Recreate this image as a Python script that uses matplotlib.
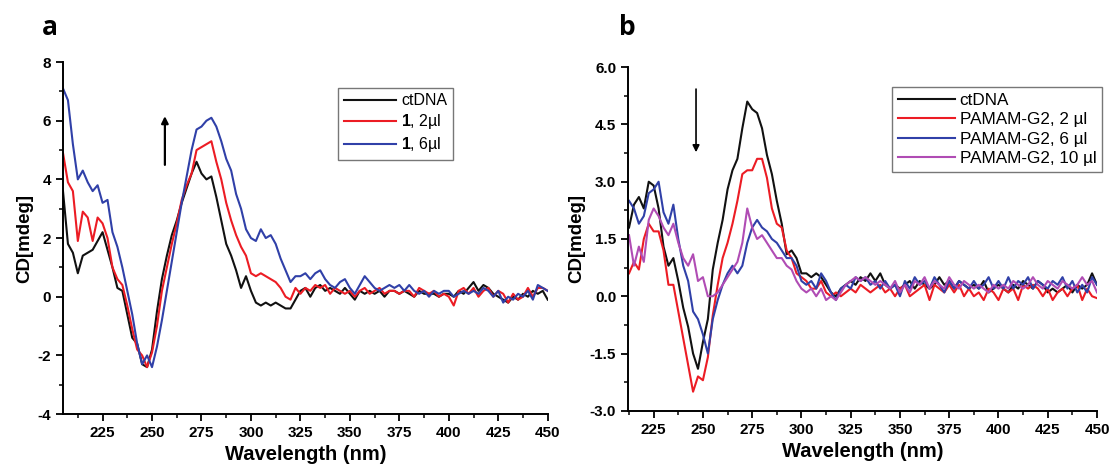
import numpy as np
import matplotlib
matplotlib.use("Agg")
import matplotlib.pyplot as plt
from matplotlib.ticker import MultipleLocator

plt.rcParams['font.family'] = ['Liberation Sans', 'DejaVu Sans']
plt.rcParams['mathtext.fontset'] = 'custom'
plt.rcParams['mathtext.bf'] = 'Liberation Sans:bold'
plt.rcParams['mathtext.rm'] = 'Liberation Sans'

# ---- panel a: ctDNA titrated with compound 1 ----
wl_a = np.arange(205, 450.01, 2.5)
cd_a_ctdna = [
    3.6, 1.8, 1.5, 0.8, 1.4, 1.5, 1.6, 1.9, 2.2, 1.6,
    1.0, 0.3, 0.2, -0.6, -1.4, -1.6, -2.3, -2.4, -1.8, -0.5,
    0.6, 1.4, 2.1, 2.6, 3.2, 3.7, 4.2, 4.6, 4.2, 4.0,
    4.1, 3.4, 2.6, 1.8, 1.4, 0.9, 0.3, 0.7, 0.2, -0.2,
    -0.3, -0.2, -0.3, -0.2, -0.3, -0.4, -0.4, -0.1, 0.2, 0.3,
    0.0, 0.3, 0.4, 0.2, 0.3, 0.2, 0.1, 0.3, 0.1, -0.1,
    0.2, 0.1, 0.2, 0.1, 0.2, 0.0, 0.2, 0.2, 0.1, 0.2,
    0.1, 0.0, 0.2, 0.1, 0.1, 0.1, 0.0, 0.1, 0.1, 0.0,
    0.2, 0.1, 0.3, 0.5, 0.2, 0.4, 0.3, 0.1, 0.0, -0.1,
    -0.2, 0.0, -0.1, 0.1, 0.0, 0.2, 0.1, 0.2, -0.1,
]
cd_a_2ul = [
    4.9, 3.9, 3.6, 1.9, 2.9, 2.7, 1.9, 2.7, 2.5, 2.0,
    1.0, 0.6, 0.4, -0.3, -1.1, -1.8, -2.0, -2.4, -1.9, -1.0,
    0.2, 1.0, 1.8, 2.5, 3.3, 3.8, 4.2, 5.0, 5.1, 5.2,
    5.3, 4.6, 4.0, 3.2, 2.6, 2.1, 1.7, 1.4, 0.8, 0.7,
    0.8, 0.7, 0.6, 0.5, 0.3, 0.0, -0.1, 0.3, 0.1, 0.3,
    0.2, 0.4, 0.3, 0.4, 0.1, 0.3, 0.2, 0.1, 0.2, 0.0,
    0.2, 0.3, 0.1, 0.2, 0.3, 0.1, 0.2, 0.2, 0.1, 0.2,
    0.2, 0.0, 0.3, 0.2, 0.1, 0.2, 0.0, 0.1, 0.0, -0.3,
    0.2, 0.3, 0.1, 0.3, 0.0, 0.2, 0.3, 0.0, 0.2, 0.1,
    -0.2, 0.1, -0.1, 0.0, 0.3, 0.0, 0.3, 0.3, 0.2,
]
cd_a_6ul = [
    7.1, 6.7, 5.2, 4.0, 4.3, 3.9, 3.6, 3.8, 3.2, 3.3,
    2.2, 1.7, 1.0, 0.2, -0.6, -1.6, -2.3, -2.0, -2.4, -1.7,
    -0.8, 0.2, 1.2, 2.2, 3.2, 4.1, 5.0, 5.7, 5.8, 6.0,
    6.1, 5.8, 5.3, 4.7, 4.3, 3.5, 3.0, 2.3, 2.0, 1.9,
    2.3, 2.0, 2.1, 1.8, 1.3, 0.9, 0.5, 0.7, 0.7, 0.8,
    0.6, 0.8, 0.9, 0.6, 0.4, 0.3, 0.5, 0.6, 0.3, 0.1,
    0.4, 0.7, 0.5, 0.3, 0.2, 0.3, 0.4, 0.3, 0.4, 0.2,
    0.4, 0.2, 0.1, 0.2, 0.0, 0.2, 0.1, 0.2, 0.2, 0.0,
    0.1, 0.2, 0.1, 0.2, 0.1, 0.3, 0.2, 0.0, 0.2, -0.2,
    0.0, -0.1, 0.1, 0.0, 0.2, -0.1, 0.4, 0.3, 0.2,
]

# ---- panel b: ctDNA titrated with PAMAM-G2 ----
wl_b = np.arange(212.5, 450.01, 2.5)
cd_b_ctdna = [
    1.8, 2.4, 2.6, 2.3, 3.0, 2.9, 2.3, 1.3, 0.8, 1.0,
    0.4, -0.3, -0.8, -1.5, -1.9, -1.2, -0.6, 0.7, 1.4, 2.0,
    2.8, 3.3, 3.6, 4.4, 5.1, 4.9, 4.8, 4.4, 3.7, 3.2,
    2.5, 1.9, 1.1, 1.2, 1.0, 0.6, 0.6, 0.5, 0.6, 0.5,
    0.3, 0.1, 0.0, 0.2, 0.3, 0.4, 0.3, 0.5, 0.4, 0.6,
    0.4, 0.6, 0.3, 0.2, 0.3, 0.2, 0.3, 0.4, 0.2, 0.4,
    0.3, 0.2, 0.3, 0.5, 0.3, 0.4, 0.2, 0.4, 0.3, 0.2,
    0.3, 0.2, 0.4, 0.1, 0.2, 0.3, 0.2, 0.1, 0.3, 0.2,
    0.4, 0.3, 0.2, 0.4, 0.3, 0.1, 0.2, 0.1, 0.2, 0.3,
    0.1, 0.3, 0.2, 0.3, 0.6, 0.3,
]
cd_b_2ul = [
    0.6, 0.9, 0.7, 1.5, 1.9, 1.7, 1.7, 1.2, 0.3, 0.3,
    -0.4, -1.1, -1.8, -2.5, -2.1, -2.2, -1.6, -0.5, 0.3, 1.0,
    1.4, 1.9, 2.5, 3.2, 3.3, 3.3, 3.6, 3.6, 3.1, 2.3,
    1.9, 1.8, 1.2, 1.0, 0.6, 0.5, 0.4, 0.2, 0.2, 0.4,
    0.1, 0.0, 0.1, 0.0, 0.1, 0.2, 0.1, 0.3, 0.2, 0.1,
    0.2, 0.3, 0.1, 0.2, 0.0, 0.2, 0.3, 0.0, 0.1, 0.2,
    0.3, -0.1, 0.3, 0.2, 0.1, 0.3, 0.1, 0.3, 0.0, 0.2,
    0.0, 0.1, -0.1, 0.2, 0.1, -0.1, 0.2, 0.1, 0.2, -0.1,
    0.3, 0.2, 0.3, 0.2, 0.0, 0.2, -0.1, 0.1, 0.2, 0.0,
    0.2, 0.3, -0.1, 0.2, 0.0, -0.05,
]
cd_b_6ul = [
    2.5, 2.3, 1.9, 2.1, 2.7, 2.8, 3.0, 2.2, 1.9, 2.4,
    1.5, 0.8, 0.4, -0.4, -0.6, -1.0, -1.5, -0.6, -0.1, 0.3,
    0.6, 0.8, 0.6, 0.8, 1.4, 1.8, 2.0, 1.8, 1.7, 1.5,
    1.4, 1.2, 1.0, 1.0, 0.8, 0.4, 0.3, 0.4, 0.2, 0.6,
    0.4, 0.1, -0.1, 0.2, 0.3, 0.2, 0.5, 0.4, 0.5, 0.3,
    0.4, 0.2, 0.4, 0.2, 0.3, 0.0, 0.4, 0.2, 0.5, 0.3,
    0.4, 0.2, 0.5, 0.3, 0.1, 0.4, 0.2, 0.4, 0.3, 0.2,
    0.4, 0.2, 0.3, 0.5, 0.2, 0.4, 0.2, 0.5, 0.2, 0.4,
    0.3, 0.5, 0.2, 0.4, 0.3, 0.2, 0.4, 0.3, 0.5, 0.2,
    0.4, 0.1, 0.3, 0.1, 0.5, 0.3,
]
cd_b_10ul = [
    1.6, 0.8, 1.3, 0.9, 2.0, 2.3, 2.1, 1.8, 1.6, 1.9,
    1.4, 1.0, 0.8, 1.1, 0.4, 0.5, 0.0, 0.0, 0.1, 0.3,
    0.5, 0.7, 0.9, 1.4, 2.3, 1.8, 1.5, 1.6, 1.4, 1.2,
    1.0, 1.0, 0.8, 0.7, 0.4, 0.2, 0.1, 0.2, 0.0, 0.2,
    -0.1, 0.0, -0.1, 0.1, 0.3, 0.4, 0.5, 0.4, 0.5, 0.4,
    0.3, 0.4, 0.3, 0.2, 0.4, 0.1, 0.3, 0.1, 0.4, 0.3,
    0.5, 0.2, 0.4, 0.3, 0.2, 0.5, 0.3, 0.2, 0.4, 0.3,
    0.2, 0.3, 0.2, 0.1, 0.3, 0.2, 0.3, 0.2, 0.4, 0.3,
    0.2, 0.3, 0.5, 0.3, 0.2, 0.4, 0.3, 0.2, 0.4, 0.3,
    0.2, 0.3, 0.5, 0.3, 0.4, 0.1,
]

labels_a = ['ctDNA', r'$\mathbf{1}$, 2µl', r'$\mathbf{1}$, 6µl']
labels_b = ['ctDNA', 'PAMAM-G2, 2 µl', 'PAMAM-G2, 6 µl', 'PAMAM-G2, 10 µl']
xticks = [225, 250, 275, 300, 325, 350, 375, 400, 425, 450]

BLACK = '#111111'
RED = '#ec1c24'
BLUE = '#3040a8'
MAGENTA = '#b04cb4'

fig = plt.figure(figsize=(11.11, 4.70), dpi=100)
ax_a = fig.add_axes([0.0567, 0.119, 0.4363, 0.749])
ax_b = fig.add_axes([0.5653, 0.126, 0.4221, 0.731])


def style_axis(ax, xlim, ylim, ymajor, yfmt):
    ax.set_xlim(*xlim)
    ax.set_ylim(*ylim)
    for s in ('top', 'right'):
        ax.spines[s].set_visible(False)
    for s in ('left', 'bottom'):
        ax.spines[s].set_linewidth(1.4)
    ax.set_xticks(xticks)
    ax.xaxis.set_minor_locator(MultipleLocator(12.5))
    ax.yaxis.set_major_locator(MultipleLocator(ymajor))
    ax.yaxis.set_minor_locator(MultipleLocator(ymajor / 2))
    ax.yaxis.set_major_formatter(plt.FormatStrFormatter(yfmt))
    ax.tick_params(which='major', direction='out', length=5, width=1.3,
                   labelsize=11)
    ax.tick_params(which='minor', direction='out', length=3, width=1.1)
    for lab in ax.get_xticklabels() + ax.get_yticklabels():
        lab.set_fontweight('bold')
    ax.set_xlabel('Wavelength (nm)', fontsize=14.5, fontweight='bold', labelpad=4)
    ax.set_ylabel('CD[mdeg]', fontsize=13.5, fontweight='bold', labelpad=3)


def add_legend(ax, anchor, size):
    leg = ax.legend(loc='upper left', bbox_to_anchor=anchor, fontsize=size,
                    handlelength=3.3, handletextpad=0.3, borderpad=0.35,
                    labelspacing=0.25, fancybox=False, framealpha=1)
    leg.get_frame().set_edgecolor('#777777')
    leg.get_frame().set_linewidth(1.0)
    return leg


# panel a
for y, c, lab in zip([cd_a_ctdna, cd_a_2ul, cd_a_6ul], [BLACK, RED, BLUE], labels_a):
    ax_a.plot(wl_a, y, color=c, lw=1.5, label=lab)
style_axis(ax_a, (205, 450), (-4, 8), 2, '%g')
ax_a.annotate('', xy=(256.5, 6.25), xytext=(256.5, 4.4),
              arrowprops=dict(arrowstyle='-|>', color='black', lw=1.6,
                              mutation_scale=10))
add_legend(ax_a, (0.551, 0.95), 11.5)

# panel b
for y, c, lab in zip([cd_b_ctdna, cd_b_2ul, cd_b_6ul, cd_b_10ul],
                     [BLACK, RED, BLUE, MAGENTA], labels_b):
    ax_b.plot(wl_b, y, color=c, lw=1.5, label=lab)
style_axis(ax_b, (212, 450), (-3, 6), 1.5, '%.1f')
ax_b.annotate('', xy=(246.5, 3.7), xytext=(246.5, 5.5),
              arrowprops=dict(arrowstyle='-|>', color='black', lw=1.2,
                              mutation_scale=10))
add_legend(ax_b, (0.545, 0.967), 12.3)

# panel letters
fig.text(0.038, 0.925, 'a', fontsize=19, fontweight='bold', family='Open Sans')
fig.text(0.557, 0.925, 'b', fontsize=19, fontweight='bold', family='Open Sans')

fig.savefig('out.png', dpi=100)
